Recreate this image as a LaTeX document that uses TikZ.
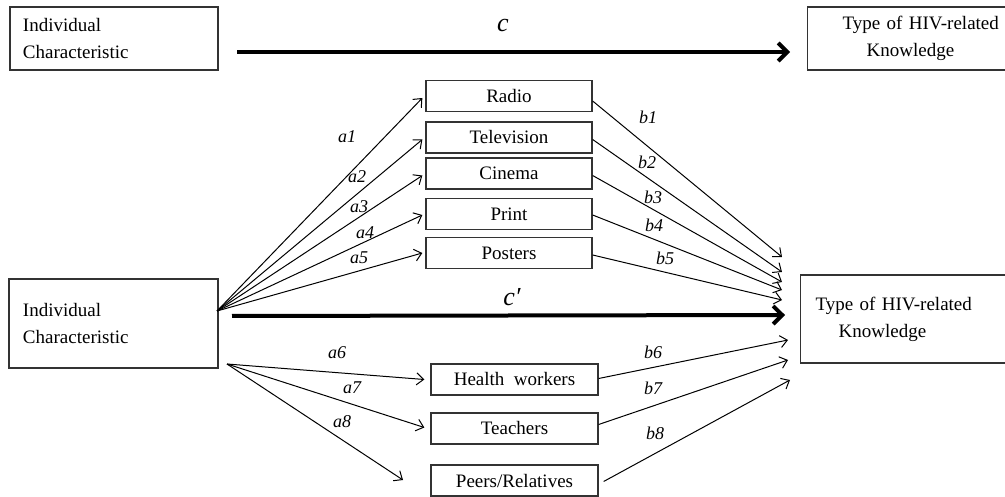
\documentclass[tikz,border=0pt]{standalone}
\usepackage{fontspec}
\setmainfont{Liberation Serif}
\usetikzlibrary{arrows.meta}
\begin{document}
\begin{tikzpicture}[x=1pt,y=-1pt,
  box/.style={draw=black!80, line width=1.3pt, inner sep=0pt, minimum height=31pt,
    font=\fontsize{19}{27}\selectfont},
  media/.style={box, minimum width=166pt},
  person/.style={box, minimum width=167pt},
  wide/.style={box, align=left, inner ysep=0pt},
  link/.style={line width=1pt, -{Straight Barb[length=7pt,width=12pt]}},
  main/.style={line width=4pt, -{Straight Barb[length=9pt,width=18pt]}},
  coef/.style={font=\fontsize{18}{18}\selectfont\itshape, inner sep=0pt},
  bigcoef/.style={font=\fontsize{26}{26}\selectfont\itshape, inner sep=0pt}
]
\useasboundingbox (0,0) rectangle (1005,497);

% total effect model
\node[wide, text width=182pt, inner xsep=13pt, minimum height=63pt] (ic1) at (114,38.5)
  {Individual\\Characteristic};
\node[wide, anchor=west, text width=170pt, inner xsep=35pt, minimum height=63pt] (k1) at (807,38.5)
  {Type of HIV-related\\\hspace*{24pt}Knowledge};
\coordinate (cs) at (237,52);
\coordinate (ce) at (790,52);
\draw[main] (cs) -- (ce);
\node[bigcoef] (lc) at (503,26) {c};

% mediation model
\node[wide, text width=181pt, inner xsep=14pt, minimum height=89pt] (ic2) at (113.5,323.5)
  {Individual\\Characteristic};
\node[wide, anchor=west, text width=190pt, inner xsep=15pt, minimum height=88pt] (k2) at (800,319)
  {Type of HIV-related\\\hspace*{23pt}Knowledge};

\node[media] (radio)  at (509,96)    {Radio};
\node[media] (tv)     at (509,137.5) {Television};
\node[media] (cinema) at (509,173.5) {Cinema};
\node[media] (print)  at (509,214)   {Print};
\node[media] (poster) at (509,253)   {Posters};

\node[person] (health)  at (514.5,379.5) {Health~ workers};
\node[person] (teacher) at (514.5,428.5) {Teachers};
\node[person] (peers)   at (514.5,480.5) {Peers/Relatives};

% paths a1--a5
\coordinate (f1) at (217,311);
\draw[link] (f1) -- ([xshift=-3pt,yshift=-2pt]radio.west);
\draw[link] (f1) -- ([xshift=-3pt,yshift=-2pt]tv.west);
\draw[link] (f1) -- ([xshift=-3pt,yshift=-2pt]cinema.west);
\draw[link] (f1) -- ([xshift=-3pt,yshift=-1pt]print.west);
\draw[link] (f1) -- ([xshift=-3pt]poster.west);
\node[coef] (la1) at (347,137) {a1};
\node[coef] (la2) at (357,177) {a2};
\node[coef] (la3) at (359,207) {a3};
\node[coef] (la4) at (365,233) {a4};
\node[coef] (la5) at (359,258) {a5};

% paths b1--b5
\coordinate (t1) at (782,257);
\coordinate (t2) at (782,272);
\coordinate (t3) at (782,282);
\coordinate (t4) at (782,290);
\coordinate (t5) at (782,300);
\draw[link] ([yshift=-5pt]radio.east)  -- (t1);
\draw[link] ([yshift=-2pt]tv.east)     -- (t2);
\draw[link] ([yshift=-2pt]cinema.east) -- (t3);
\draw[link] ([yshift=-1pt]print.east)  -- (t4);
\draw[link] ([yshift=-2pt]poster.east) -- (t5);
\node[coef] (lb1) at (648,117) {b1};
\node[coef] (lb2) at (647,162) {b2};
\node[coef] (lb3) at (653,197) {b3};
\node[coef] (lb4) at (654,225) {b4};
\node[coef] (lb5) at (665,258) {b5};

% direct effect c'
\coordinate (ds) at (232,316);
\coordinate (de) at (785,315);
\draw[main] (ds) -- (de);
\node[bigcoef] (lcp) at (512,297) {c′};

% paths a6--a8
\coordinate (f2) at (227,364);
\coordinate (e8) at (403,480);
\draw[link] (f2) -- ([xshift=-6pt]health.west);
\draw[link] (f2) -- ([xshift=-6pt,yshift=1pt]teacher.west);
\draw[link] (f2) -- (e8);
\node[coef] (la6) at (337,353) {a6};
\node[coef] (la7) at (352,388) {a7};
\node[coef] (la8) at (342,422) {a8};

% paths b6--b8
\coordinate (t6) at (788,340);
\coordinate (t7) at (788,360);
\coordinate (t8) at (790,380);
\draw[link] ([yshift=1pt]health.east) -- (t6);
\draw[link] ([yshift=4pt]teacher.east) -- (t7);
\draw[link] ([xshift=5pt,yshift=-1pt]peers.east) -- (t8);
\node[coef] (lb6) at (653,352) {b6};
\node[coef] (lb7) at (653,388) {b7};
\node[coef] (lb8) at (655,433) {b8};
\end{tikzpicture}
\end{document}
